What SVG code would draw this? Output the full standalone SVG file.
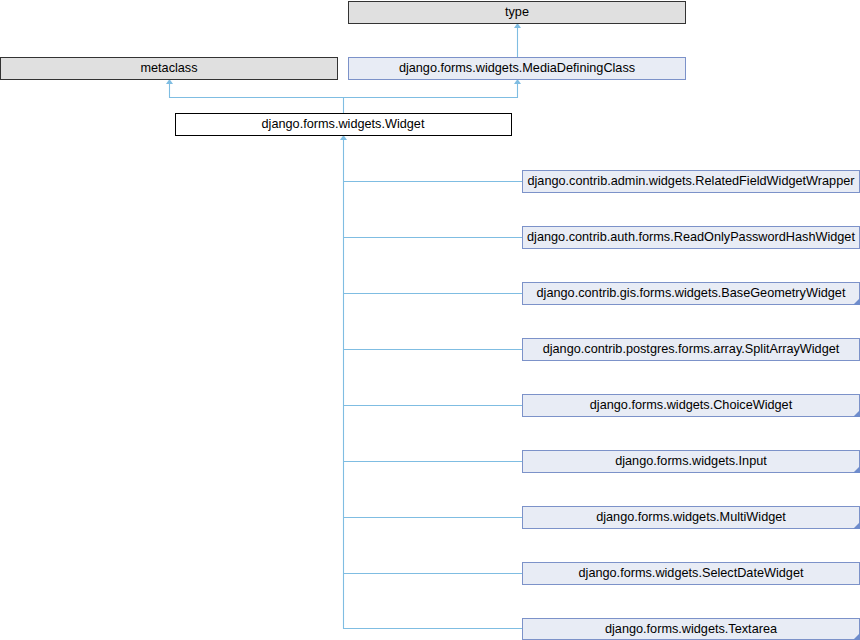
<svg xmlns="http://www.w3.org/2000/svg" width="860" height="640" viewBox="0 0 860 640">
<style>
.g rect{fill:#e0e0e0;stroke:#333;stroke-width:1}
.w rect{fill:#fff;stroke:#000;stroke-width:1}
.b rect{fill:#e8ecf5;stroke:#7c92c9;stroke-width:1}
text{font-family:"Liberation Sans",Arial,sans-serif;font-size:12.7px;fill:#000;text-anchor:middle}
.e{fill:none;stroke:#7fbde2;stroke-width:1.1}
.a{fill:#7fbde2}
.c{fill:#6e8ccc}
</style>
<g id="connectors">
<path class="e" d="M517.5,57 V27"/>
<path class="a" d="M514,28 L517.5,23 L521,28 Z"/>
<path class="e" d="M343.5,113 V97.5 H169.5 V83"/>
<path class="a" d="M166,84 L169.5,79 L173,84 Z"/>
<path class="e" d="M343.5,97.5 H517.5 V83"/>
<path class="a" d="M514,84 L517.5,79 L521,84 Z"/>
<path class="e" d="M343.5,139 V628.5 H522"/>
<path class="a" d="M340,140 L343.5,135 L347,140 Z"/>
<path class="e" d="M343.5,181.5 H522 M343.5,237.5 H522 M343.5,293.5 H522 M343.5,349.5 H522 M343.5,405.5 H522 M343.5,461.5 H522 M343.5,517.5 H522 M343.5,573.5 H522"/>
</g>
<g id="type" class="g"><rect x="348.5" y="1.5" width="337" height="22"/><text x="517" y="15.5">type</text></g>
<g id="metaclass" class="g"><rect x="0.5" y="57.5" width="337" height="22"/><text x="169" y="71.5">metaclass</text></g>
<g id="MediaDefiningClass" class="b"><rect x="348.5" y="57.5" width="337" height="22"/><text x="517" y="71.5">django.forms.widgets.MediaDefiningClass</text></g>
<g id="Widget" class="w"><rect x="175.5" y="113.5" width="336" height="22"/><text x="343" y="127.5">django.forms.widgets.Widget</text></g>
<g id="RelatedFieldWidgetWrapper" class="b"><rect x="522.5" y="170.5" width="337" height="22"/><text x="691" y="184.5">django.contrib.admin.widgets.RelatedFieldWidgetWrapper</text></g>
<g id="ReadOnlyPasswordHashWidget" class="b"><rect x="522.5" y="226.5" width="337" height="22"/><text x="691" y="240.5">django.contrib.auth.forms.ReadOnlyPasswordHashWidget</text></g>
<g id="BaseGeometryWidget" class="b"><rect x="522.5" y="282.5" width="337" height="22"/><text x="691" y="296.5">django.contrib.gis.forms.widgets.BaseGeometryWidget</text><path class="c" d="M860,298 V305 H853 Z"/></g>
<g id="SplitArrayWidget" class="b"><rect x="522.5" y="338.5" width="337" height="22"/><text x="691" y="352.5">django.contrib.postgres.forms.array.SplitArrayWidget</text></g>
<g id="ChoiceWidget" class="b"><rect x="522.5" y="394.5" width="337" height="22"/><text x="691" y="408.5">django.forms.widgets.ChoiceWidget</text><path class="c" d="M860,410 V417 H853 Z"/></g>
<g id="Input" class="b"><rect x="522.5" y="450.5" width="337" height="22"/><text x="691" y="464.5">django.forms.widgets.Input</text><path class="c" d="M860,466 V473 H853 Z"/></g>
<g id="MultiWidget" class="b"><rect x="522.5" y="506.5" width="337" height="22"/><text x="691" y="520.5">django.forms.widgets.MultiWidget</text><path class="c" d="M860,522 V529 H853 Z"/></g>
<g id="SelectDateWidget" class="b"><rect x="522.5" y="562.5" width="337" height="22"/><text x="691" y="576.5">django.forms.widgets.SelectDateWidget</text></g>
<g id="Textarea" class="b"><rect x="522.5" y="618.5" width="337" height="21"/><text x="691" y="632.5">django.forms.widgets.Textarea</text><path class="c" d="M860,633 V640 H853 Z"/></g>
</svg>
